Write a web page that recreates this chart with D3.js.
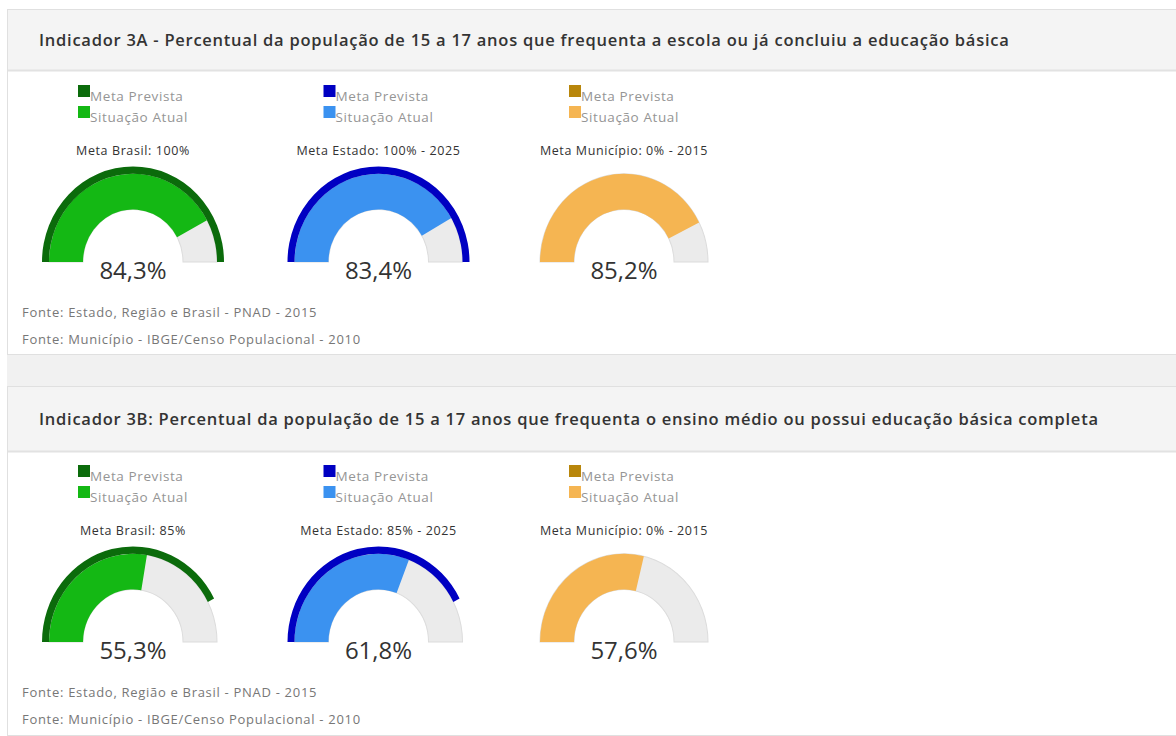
<!DOCTYPE html>
<html>
<head>
<meta charset="utf-8">
<script src="https://cdn.jsdelivr.net/npm/d3@7/dist/d3.min.js"></script>
<style>
  html, body { margin: 0; padding: 0; background: #fff; }
  svg { display: block; }
</style>
</head>
<body>
<svg id="chart" width="1176" height="736"></svg>
<script>
// ---------- DATA ----------
const titles = [
  "Indicador 3A - Percentual da população de 15 a 17 anos que frequenta a escola ou já concluiu a educação básica",
  "Indicador 3B: Percentual da população de 15 a 17 anos que frequenta o ensino médio ou possui educação básica completa"
];
const levels = ["Brasil", "Estado", "Município"];
const legendLabels = ["Meta Prevista", "Situação Atual"];
const metaLabels3A = ["Meta Brasil: 100%", "Meta Estado: 100% - 2025", "Meta Município: 0% - 2015"];
const metaValues3A = [100, 100, 0];
const atual3A = [84.3, 83.4, 85.2];
const metaLabels3B = ["Meta Brasil: 85%", "Meta Estado: 85% - 2025", "Meta Município: 0% - 2015"];
const metaValues3B = [85, 85, 0];
const atual3B = [55.3, 61.8, 57.6];
const fontes = [
  "Fonte: Estado, Região e Brasil - PNAD - 2015",
  "Fonte: Município - IBGE/Censo Populacional - 2010"
];
const metaColors = ["#0b6b0b", "#0000c2", "#b8860b"];
const atualColors = ["#14b814", "#3b92f0", "#f5b552"];

// ---------- LAYOUT ----------
const W = 1176, H = 736;
const svg = d3.select("#chart");
const ptBR = d3.formatLocale({ decimal: ",", thousands: ".", grouping: [3], currency: ["R$", ""] });
const fmt = v => ptBR.format(".1f")(v) + "%";

const xPos = d3.scalePoint().domain(levels).range([133, 624]);
const angle = d3.scaleLinear().domain([0, 100]).range([-Math.PI / 2, Math.PI / 2]);

const rIn = 50, rOut = 84, rMetaIn = 84, rMetaOut = 91;
const arcBg = d3.arc().innerRadius(rIn).outerRadius(rOut);
const arcMeta = d3.arc().innerRadius(rMetaIn).outerRadius(rMetaOut);

const panels = [
  { top: 9, headH: 61, bottom: 355, off: 0, metaLabels: metaLabels3A, metas: metaValues3A, atual: atual3A, title: titles[0] },
  { top: 386, headH: 65, bottom: 736, off: 380, metaLabels: metaLabels3B, metas: metaValues3B, atual: atual3B, title: titles[1] }
];

// gap between panels
svg.append("rect").attr("x", 7).attr("y", 355).attr("width", W - 7).attr("height", 31).attr("fill", "#f1f1f1");

const font = "'Open Sans', 'Noto Sans', sans-serif";

panels.forEach((p, pi) => {
  const g = svg.append("g");
  // panel body
  g.append("rect").attr("x", 7.5).attr("y", p.top + 0.5).attr("width", W).attr("height", p.bottom - p.top - 1)
    .attr("fill", "#fff").attr("stroke", "#e0e0e0");
  // header
  g.append("rect").attr("x", 8).attr("y", p.top + 1).attr("width", W).attr("height", p.headH - 1)
    .attr("fill", "#f4f4f4");
  g.append("line").attr("x1", 8).attr("x2", W).attr("y1", p.top + p.headH + 0.5).attr("y2", p.top + p.headH + 0.5)
    .attr("stroke", "#e2e2e2").attr("stroke-width", 2);
  g.append("text").attr("x", 39).attr("y", p.top + p.headH / 2 + 1).attr("dy", "0.35em")
    .attr("font-family", font).attr("font-weight", 600).attr("font-size", 16.5)
    .attr("letter-spacing", 0.75).attr("fill", "#333")
    .text(p.title);

  levels.forEach((lv, i) => {
    const cx = xPos(lv);
    const gg = g.append("g");
    // legend
    legendLabels.forEach((lab, k) => {
      const ly = 85 + p.off + k * 21;
      gg.append("rect").attr("x", cx - 55).attr("y", ly).attr("width", 12).attr("height", 12)
        .attr("fill", k === 0 ? metaColors[i] : atualColors[i]);
      gg.append("text").attr("x", cx - 43).attr("y", ly + 11).attr("dy", "0.35em")
        .attr("font-family", font).attr("font-size", 13.5).attr("letter-spacing", 0.6)
        .attr("fill", "#959595").text(lab);
    });
    // meta label
    gg.append("text").attr("x", cx).attr("y", 151 + p.off).attr("dy", "0.35em").attr("text-anchor", "middle")
      .attr("font-family", font).attr("font-size", 12.5).attr("letter-spacing", 0.6)
      .attr("fill", "#333").text(p.metaLabels[i]);
    // gauge
    const cy = 262 + p.off;
    const ga = gg.append("g").attr("transform", `translate(${cx},${cy}) scale(1,1.05)`);
    ga.append("path").attr("d", arcBg({ startAngle: angle(0), endAngle: angle(100) }))
      .attr("fill", "#ebebeb").attr("stroke", "#dcdcdc").attr("stroke-width", 1);
    ga.append("path").attr("d", arcBg({ startAngle: angle(0), endAngle: angle(p.atual[i]) }))
      .attr("fill", atualColors[i]);
    if (p.metas[i] > 0) {
      ga.append("path").attr("d", arcMeta({ startAngle: angle(0), endAngle: angle(p.metas[i]) }))
        .attr("fill", metaColors[i]);
    }
    gg.append("text").attr("x", cx).attr("y", cy + 9).attr("dy", "0.35em").attr("text-anchor", "middle")
      .attr("font-family", font).attr("font-size", 24).attr("fill", "#333").text(fmt(p.atual[i]));
  });

  fontes.forEach((f, k) => {
    g.append("text").attr("x", 22).attr("y", 312 + p.off + k * 27).attr("dy", "0.35em")
      .attr("font-family", font).attr("font-size", 13).attr("letter-spacing", 0.7)
      .attr("fill", "#777").text(f);
  });
});
</script>
</body>
</html>
